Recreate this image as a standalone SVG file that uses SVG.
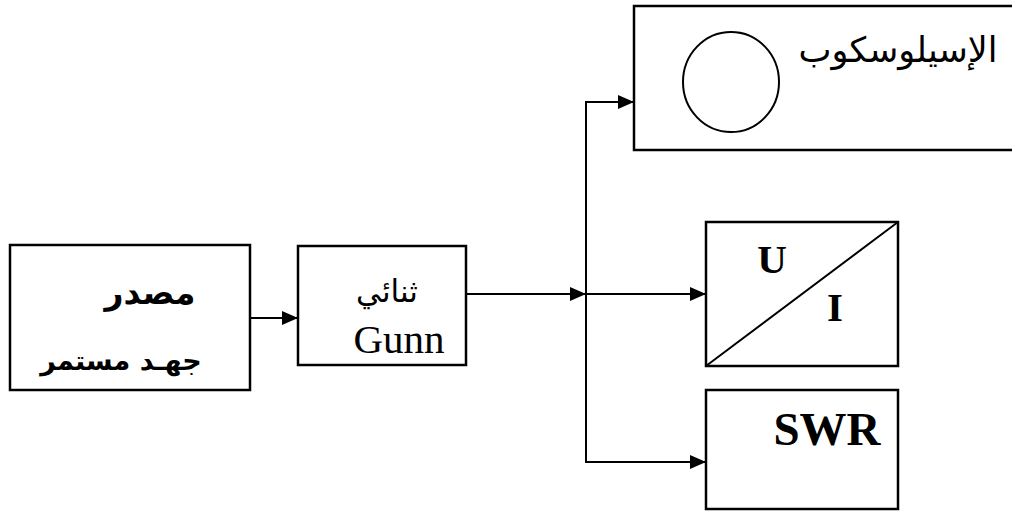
<svg xmlns="http://www.w3.org/2000/svg" width="1012" height="514" viewBox="0 0 1012 514">
  <style>
    .box { fill: #ffffff; stroke: #000000; stroke-width: 2.5; }
    .wire { fill: none; stroke: #000000; stroke-width: 2; }
    .ar { font-family: "DejaVu Sans", "Noto Sans", sans-serif; fill: #000000; }
    .lat { font-family: "Liberation Serif", "Times New Roman", serif; fill: #000000; }
  </style>
  <defs>
    <marker id="arrow" markerUnits="userSpaceOnUse" markerWidth="18" markerHeight="16" refX="16" refY="7" orient="auto">
      <path d="M0,0 L16,7 L0,14 z" fill="#000000"/>
    </marker>
  </defs>

  <rect width="1012" height="514" fill="#ffffff"/>

  <!-- connectors -->
  <g id="connectors">
    <line class="wire" x1="250" y1="318" x2="298" y2="318" marker-end="url(#arrow)"/>
    <line class="wire" x1="466" y1="294" x2="586" y2="294" marker-end="url(#arrow)"/>
    <polyline class="wire" points="634,102 586,102 586,462 706,462"/>
    <line class="wire" x1="586" y1="102" x2="634" y2="102" marker-end="url(#arrow)"/>
    <line class="wire" x1="586" y1="294" x2="706" y2="294" marker-end="url(#arrow)"/>
    <line class="wire" x1="586" y1="462" x2="706" y2="462" marker-end="url(#arrow)"/>
  </g>

  <!-- DC voltage source -->
  <g id="dc-source">
    <rect class="box" x="10" y="245" width="240" height="145"/>
    <text class="ar" x="150" y="304" font-size="33" font-weight="bold" text-anchor="middle" direction="rtl">مصدر</text>
    <text class="ar" x="121" y="370" font-size="27" font-weight="bold" text-anchor="middle" direction="rtl">جهـد مستمر</text>
  </g>

  <!-- Gunn diode -->
  <g id="gunn-diode">
    <rect class="box" x="298" y="246" width="168" height="119"/>
    <text class="ar" x="387" y="302" font-size="31" text-anchor="middle" direction="rtl">ثنائي</text>
    <text class="lat" x="399" y="353" font-size="41" text-anchor="middle">Gunn</text>
  </g>

  <!-- Oscilloscope -->
  <g id="oscilloscope">
    <rect class="box" x="634" y="6" width="390" height="144"/>
    <ellipse cx="731" cy="82" rx="48" ry="50" fill="none" stroke="#000000" stroke-width="2"/>
    <text class="ar" x="898" y="62" font-size="35" text-anchor="middle" direction="rtl">الإسيلوسكوب</text>
  </g>

  <!-- U/I meter -->
  <g id="ui-meter">
    <rect class="box" x="706" y="222" width="192" height="144"/>
    <line x1="706" y1="366" x2="898" y2="222" stroke="#000000" stroke-width="2"/>
    <text class="lat" x="772" y="273" font-size="41" font-weight="bold" text-anchor="middle">U</text>
    <text class="lat" x="835" y="321" font-size="41" font-weight="bold" text-anchor="middle">I</text>
  </g>

  <!-- SWR meter -->
  <g id="swr-meter">
    <rect class="box" x="706" y="390" width="192" height="119"/>
    <text class="lat" x="827" y="445" font-size="47" font-weight="bold" text-anchor="middle">SWR</text>
  </g>
</svg>
